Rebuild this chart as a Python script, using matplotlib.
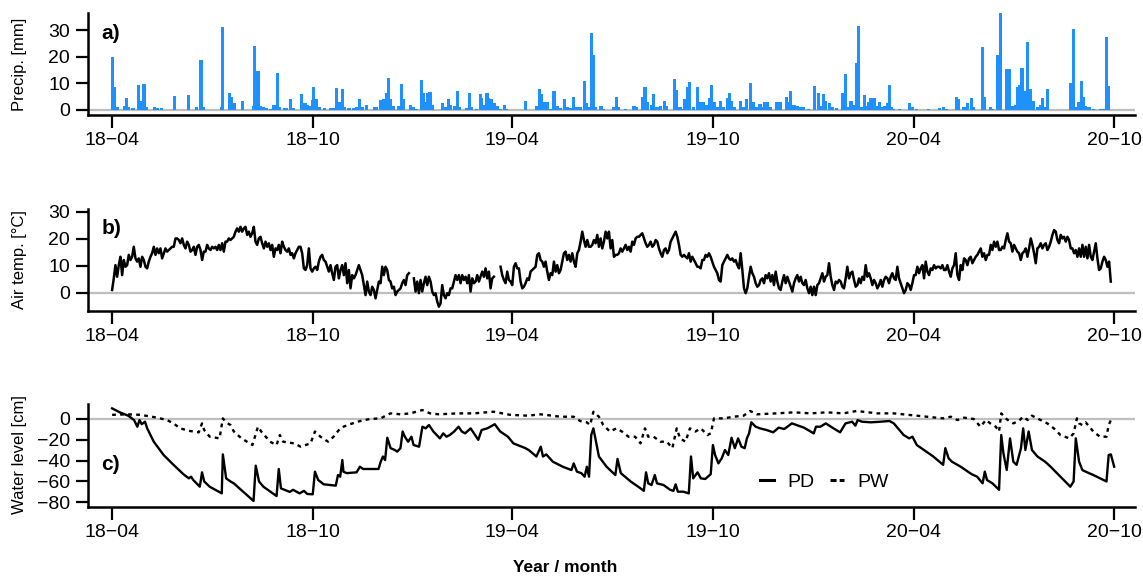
import numpy as np
import matplotlib
matplotlib.use('Agg')
import matplotlib.pyplot as plt
from matplotlib.lines import Line2D

plt.rcParams['font.family'] = ['Liberation Sans', 'DejaVu Sans']

#%% Data (days counted from 2018-04-01)

start = np.datetime64('2018-04-01')
tick_dates = np.array(['2018-04-01', '2018-10-01', '2019-04-01',
                       '2019-10-01', '2020-04-01', '2020-10-01'], dtype='datetime64[D]')
tick_labels = ['18\u221204', '18\u221210', '19\u221204', '19\u221210', '20\u221204', '20\u221210']

# daily precipitation [mm], only rainy days
precip_day = [0, 2, 5, 11, 13, 15, 19, 24, 26, 29, 31, 39, 41, 45, 57, 70, 77, 81, 83, 100,
              101, 107, 109, 112, 119, 129, 130, 133, 135, 138, 141, 145, 147, 149, 151, 153,
              157, 159, 163, 165, 173, 176, 178, 181, 183, 184, 186, 189, 194, 199, 202, 205,
              207, 210, 212, 216, 220, 223, 226, 228, 232, 239, 241, 245, 248, 250, 252, 254,
              257, 261, 264, 266, 272, 275, 278, 282, 284, 286, 288, 290, 292, 301, 304, 307,
              309, 312, 315, 317, 323, 326, 328, 332, 336, 337, 340, 342, 343, 346, 349, 351,
              354, 358, 360, 377, 387, 390, 392, 394, 397, 400, 403, 406, 409, 413, 415, 418,
              421, 424, 427, 431, 433, 435, 437, 439, 441, 446, 448, 457, 460, 462, 468, 476,
              478, 484, 486, 488, 492, 494, 497, 500, 504, 506, 513, 515, 518, 520, 522, 525,
              527, 530, 534, 536, 539, 542, 545, 547, 549, 552, 555, 558, 561, 563, 565, 568,
              573, 576, 579, 582, 585, 588, 591, 593, 595, 598, 600, 606, 608, 610, 615, 617,
              619, 622, 625, 628, 631, 635, 641, 644, 646, 649, 651, 654, 657, 661, 666, 667,
              669, 671, 674, 677, 679, 681, 683, 686, 689, 690, 692, 695, 698, 700, 702, 705,
              707, 709, 711, 713, 718, 727, 730, 734, 745, 755, 758, 761, 770, 772, 777, 780,
              784, 786, 794, 796, 801, 803, 808, 810, 816, 818, 821, 824, 826, 828, 830, 832,
              833, 835, 838, 840, 844, 847, 849, 851, 853, 874, 876, 877, 880, 882, 884, 886,
              888, 891, 895, 902, 904, 907, 909]
precip_mm = [20, 8.5, 1, 1.5, 4.3, 1, 0.6, 9.2, 3.5, 9.8, 1, 1.2, 0.7, 0.6, 5.3, 5.7, 1, 18.7, 1, 1,
             31.2, 6.4, 5, 2.6, 3.3, 1.5, 24, 14.5, 1.5, 1, 0.8, 0.5, 2, 2, 14, 1,
             0.6, 0.6, 4, 0.8, 6, 2.7, 2, 1.5, 3.7, 8.8, 4.2, 1, 0.7, 0.7, 0.7, 8.4,
             3, 7.8, 1, 0.6, 0.6, 1, 4, 1, 2, 1, 1, 3.8, 4, 6.5, 12, 4,
             1.5, 1.5, 9.6, 4, 2, 1, 0.5, 11.2, 6.5, 3, 6.3, 6.7, 2, 2.7, 1, 4,
             2, 1.5, 7, 1, 0.7, 6.5, 1, 0.5, 6, 4.5, 2, 6.5, 4.5, 4, 2.7, 1.5,
             0.5, 1.8, 0.5, 3.5, 1.5, 7.8, 6, 3, 3, 0.5, 7, 1.5, 0.7, 4, 1, 0.7,
             5, 1, 1, 11, 2.5, 1, 29, 20.5, 1, 1.5, 0.5, 1, 5, 1, 0.5, 1.5,
             1, 5, 8.5, 3, 2, 6, 1, 1.5, 3.5, 1.5, 11.5, 7.5, 1, 0.5, 4, 8.5,
             10.5, 1, 8.5, 3, 3, 2, 4.5, 9.3, 3, 1, 3.5, 1, 4.5, 6.3, 3.5, 1,
             3.5, 1, 4, 10.3, 3, 1, 2.3, 1, 3, 3, 1, 3, 3, 3, 5, 3,
             7, 2, 1.5, 1, 1, 0.5, 9, 6.5, 1.5, 6, 3.5, 2.5, 1, 0.7, 6.5, 6.5,
             13.5, 1, 3.5, 2, 17.5, 31.5, 1, 5.5, 1.5, 3, 4.5, 4.5, 1.5, 3, 1, 1.5,
             2.5, 9.5, 1, 0.5, 0.5, 2.5, 1, 0.5, 0.5, 0.7, 1, 0.5, 4.7, 4, 1, 2.7,
             4.3, 1, 23.5, 5, 1.2, 0.5, 20.5, 36.7, 15.5, 15.5, 1.5, 2, 8.5, 9.5, 15.7, 7,
             3, 25.5, 8, 3.5, 1, 2, 4.5, 1, 8, 10, 10, 30.5, 1, 3, 11, 5,
             1.5, 1.2, 0.5, 0.5, 0.5, 27.5, 9]

# air temperature [degC], one reading every 1.52 days, nan = no data
temp_step = 1.5207
temp_c = [1.0, 5.3, 10.2, 5.9, 10.2, 13.3, 6.5, 12.1, 9.6, 10.2,
          14.0, 12.1, 13.3, 17.0, 12.7, 11.5, 12.7, 9.6, 13.3, 12.1,
          9.6, 9.0, 11.5, 13.3, 14.6, 17.0, 14.0, 16.4, 14.6, 16.4,
          12.7, 14.6, 16.4, 15.2, 15.8, 16.4, 17.0, 17.0, 20.1, 20.1,
          19.5, 18.3, 20.1, 17.7, 16.4, 18.9, 17.7, 15.2, 15.8, 17.0,
          14.0, 17.0, 17.7, 15.8, 12.1, 15.2, 15.2, 17.7, 16.4, 15.8,
          17.0, 16.4, 17.0, 15.8, 17.7, 15.8, 18.3, 15.2, 18.9, 18.9,
          20.1, 19.5, 20.1, 20.7, 22.6, 23.8, 22.6, 24.4, 22.6, 23.8,
          24.4, 21.4, 22.6, 20.7, 22.0, 24.4, 18.9, 17.7, 20.1, 20.7,
          18.3, 16.4, 18.9, 17.0, 18.3, 15.8, 17.7, 13.3, 16.4, 15.8,
          17.7, 14.6, 18.9, 17.0, 15.8, 15.2, 16.4, 14.0, 14.6, 12.7,
          14.6, 15.8, 17.0, 17.0, 14.6, 9.0, 8.4, 10.2, 16.4, 9.0,
          7.8, 9.0, 9.6, 8.4, 11.5, 13.3, 14.0, 12.1, 11.5, 9.6,
          7.8, 10.2, 7.2, 4.7, 9.6, 10.2, 5.3, 8.4, 10.2, 6.5,
          10.9, 3.5, 8.4, 1.6, 6.5, 5.3, 6.5, 8.4, 10.2, 8.4,
          6.5, 2.8, -0.9, 4.1, 0.4, -0.9, 2.2, 1.0, -2.1, 1.0,
          4.1, 3.5, 9.6, 6.5, 9.6, 8.4, 4.7, 4.1, 1.6, 2.2,
          -0.9, 0.4, 1.0,
          1.6, 3.5, 4.7, 2.8, 6.5, 7.2, np.nan, np.nan, 5.3, 0.4,
          4.1, -0.2, 4.7, 0.4, 3.5, 5.9, 2.8, 5.9, 4.1, 0.4,
          -0.9, -0.2, -3.3, -5.2, -4.0, 2.8, -0.9, -2.1, -0.2, -0.9,
          1.6, 1.6, 4.1, 6.5, 4.7, 6.5, 3.5, 6.5, 4.7, 5.9,
          3.5, 6.5, 0.4, 5.3, 3.5, 4.1, 6.5, 4.1, 5.9, 7.8,
          5.9, 9.0, 5.3, 7.8, 1.6, 5.3, 5.9, np.nan, np.nan, np.nan,
          9.6, 6.5, 4.7, 3.5, 7.8, 4.7, 4.1, 2.8, 9.6, 10.9,
          9.0, 9.0, 4.1, 1.6, 2.2, 3.5, 5.3, 4.7, 7.8, 8.4,
          9.0, 9.6, 14.0, 14.6, 12.1, 11.5, 9.6, 11.5, 7.8, 4.7,
          7.2, 6.5, 11.5, 7.8, 10.2, 7.2, 8.4, 11.5, 14.6, 15.2,
          12.1, 14.0, 11.5, 14.6, 11.5, 9.6, 14.6, 15.8, 18.9, 22.6,
          19.5, 17.0, 19.5, 17.0, 17.0, 17.7, 19.5, 18.3, 21.4, 17.0,
          20.1, 16.4, 18.9, 22.6, 20.1, 22.6, 16.4, 19.5, 13.3, 14.0,
          14.0, 14.6, 16.4, 15.2, 16.4, 17.7, 15.8, 17.0, 15.2, 18.9,
          17.7, 20.1, 20.7, 20.7, 21.4, 22.0, 20.1, 18.3, 17.0, 17.7,
          18.9, 17.0, 17.7, 19.5, 18.9, 16.4, 14.6, 13.3, 15.8, 16.4,
          14.6, 15.8, 18.9, 20.1, 21.4, 22.6, 20.7, 17.7, 14.0, 13.3,
          14.0, 13.3, 12.7, 14.6, 11.5, 13.3, 12.1, 10.9, 9.6, 9.6,
          9.0, 12.1, 12.1, 14.0, 13.3, 14.6, 13.3, 11.5, 9.6, 8.4,
          7.2, 4.7, 4.1, 10.2, 11.5, 12.7, 14.0, 12.7, 12.1, 12.7,
          11.5, 12.1, 10.2, 9.0, 14.6, 8.4, 1.6, -0.2, 1.6, 5.9,
          9.6, 7.2, 5.9, 3.5, 2.2, 2.8, 4.7, 5.3, 3.5, 6.5,
          5.3, 7.2, 4.1, 6.5, 2.8, 7.8, 4.1, 1.6,
          1.0, 4.1, 6.5, 3.5, 5.9, 4.1, 2.2, 0.4, 3.5, 5.3,
          6.5, 4.1, 5.9, 3.5, 2.8, 4.7, 1.6, -0.2, 2.2, -0.9,
          2.2, -0.9, 2.8, 3.5, 5.3, 7.2, 4.1, 5.9, 6.5, 10.9,
          5.9, 2.8, 1.0, 4.1, 3.5, 4.7, 4.1, 2.2, 1.6, 5.3,
          9.6, 5.3, 7.2, 7.8, 4.7, 2.2, 2.8, 5.3, 3.5, 5.9,
          4.7, 10.2, 5.9, 7.2, 5.3, 2.8, 4.7, 3.5, 1.6, 2.8,
          4.7, 2.2, 4.7, 5.9, 5.3, 3.5, 5.9, 7.2, 5.3, 4.7,
          9.6, 5.3, 3.5, 1.6, -0.2, 1.0, 3.5, 2.8, 1.0, 3.5,
          6.5, 6.5, 9.6, 7.2, 9.0, 10.2, 5.3, 11.5, 7.8, 6.5,
          9.0, 8.4, 10.2, 9.0, 9.6, 9.6, 9.0, 10.2, 8.4, 8.4,
          10.2, 7.8, 5.9, 9.0, 10.2, 14.6, 6.5, 4.7, 10.2, 8.4,
          12.7, 12.1, 10.2, 12.7, 13.3, 10.9, 12.1, 13.3, 14.0, 15.2,
          16.4, 13.3, 14.6, 12.1, 14.0, 14.0, 17.7, 15.8, 18.9, 17.0,
          18.9, 15.8, 15.8, 17.0, 16.4, 19.5, 22.0, 18.9, 18.3, 15.2,
          17.7, 16.4, 15.2, 14.6, 12.1, 14.6, 15.2, 16.4, 13.3, 16.4,
          20.1, 17.7, 14.6, 10.9, 16.4, 17.0, 18.3, 16.4, 17.7, 18.3,
          15.8, 17.0, 18.9, 21.4, 23.2, 22.6, 19.5, 18.3, 21.4, 20.1,
          20.7, 18.9, 20.7, 19.5, 16.4, 16.4, 14.6, 15.8, 13.3, 16.4,
          13.3, 17.7, 13.3, 17.0, 12.7, 17.7, 13.3, 12.1, 15.2, 18.3,
          12.7, 8.4, 9.0, 11.5, 13.3, 12.1, 9.6, 11.5, 4.1]

# water level [cm], PD and PW
pd_day = [0, 7, 15, 20, 23, 25, 27, 30, 32, 38, 47, 56, 65, 70, 72, 74, 80, 82, 84, 89,
          100, 101, 104, 108, 111, 129, 131, 134, 138, 150, 152, 154, 162, 165, 171, 175, 178,
          183, 185, 188, 193, 204, 206, 208, 210, 211, 214, 223, 226, 229, 243, 245, 247, 249,
          251, 254, 258, 260, 263, 265, 267, 270, 273, 275, 280, 283, 286, 289, 293, 299, 302,
          305, 308, 312, 316, 319, 322, 327, 334, 337, 342, 345, 349, 354, 361, 366, 377, 380,
          387, 391, 393, 396, 402, 411, 419, 421, 424, 428, 431, 433, 435, 437, 439, 442, 444,
          451, 459, 461, 464, 473, 482, 485, 487, 489, 492, 495, 497, 503, 509, 512, 514, 516,
          521, 526, 528, 530, 534, 537, 541, 546, 548, 550, 553, 556, 559, 562, 565, 568, 571,
          574, 577, 579, 581, 583, 587, 591, 597, 603, 608, 613, 616, 620, 631, 640, 642, 646,
          651, 657, 664, 669, 675, 678, 680, 684, 692, 701, 709, 713, 722, 727, 730, 734, 749,
          758, 760, 763, 766, 774, 784, 789, 794, 796, 798, 803, 809, 811, 813, 816, 819, 822,
          825, 829, 831, 833, 836, 839, 844, 851, 856, 865, 874, 877, 879, 882, 885, 888, 895,
          907, 909, 911, 914]
pd_cm = [10.2, 6.4, 3, -1, -7.4, -1, -5, -2.6, -9, -21.8, -34.6, -44, -53, -57, -55.4, -58.6, -65, -51.2, -60, -65,
         -71.4, -34, -57, -60, -61.8, -78.7, -44.8, -60, -65, -74, -48, -66.6, -70, -68, -71.4, -69, -72,
         -72.3, -50.6, -58.6, -62.7, -64, -53.8, -55.4, -39.4, -50.6, -52, -51.2, -45.8, -48, -48, -41, -36, -39.4,
         -18, -28, -29.8, -31.4, -28, -12, -17, -21.8, -17, -25, -26.6, -7.4, -9, -5.8, -12, -18.6, -13.8,
         -17, -15.4, -12, -7.4, -12, -13.8, -9, -20, -10.6, -9, -7.4, -5, -12, -17, -23.4, -28, -29.8,
         -36, -26.6, -36, -34, -41, -45.8, -49, -42.6, -50.6, -52, -55.4, -45.8, -55.4, -15.4, -9, -25, -36,
         -45.8, -53.8, -38.4, -52, -60, -66.6, -69, -51.2, -61.8, -63.4, -53.8, -61.8, -63.4, -68, -69, -62.7, -69.8,
         -69.8, -71.4, -36, -57, -51.2, -57, -57.6, -53, -25, -34.6, -42.6, -37.8, -29.8, -34.6, -18, -28, -18.6,
         -26.6, -28, -18.6, -13.8, -3.2, -7.4, -9, -10.6, -12.8, -8.3, -9.6, -7.4, -4.2, -8.3, -13.8, -7.4, -7.4,
         -4.2, -8.3, -12.8, -4.2, -2.6, -6.4, -1, -2.6, -3.2, -2.6, -1.9, -4.2, -15.4, -18.6, -17, -25, -36,
         -44, -28, -37.8, -41, -45.8, -53, -55.4, -61.8, -50.6, -58.6, -61.8, -68, -15.4, -33, -49, -18.6, -41,
         -44, -28, -9, -29.8, -12, -29.8, -36, -41, -45.8, -55.4, -65, -60, -18.6, -41, -49, -50.6, -53.8,
         -60, -34.6, -34, -45.8]

pw_day = [0, 14, 26, 41, 50, 56, 62, 71, 79, 82, 84, 89, 98, 101, 104, 108, 111, 118, 128, 133,
          136, 144, 150, 153, 156, 166, 172, 181, 185, 190, 197, 202, 208, 211, 217, 226, 235, 245,
          251, 254, 263, 272, 283, 290, 298, 315, 330, 348, 363, 379, 391, 409, 421, 427, 433, 436,
          439, 444, 448, 454, 460, 465, 471, 477, 482, 486, 489, 494, 500, 506, 511, 515, 518, 523,
          527, 532, 537, 543, 546, 549, 558, 567, 576, 582, 588, 606, 622, 637, 652, 667, 679, 698,
          713, 728, 743, 758, 765, 771, 777, 786, 792, 797, 801, 806, 809, 811, 815, 819, 822, 827,
          831, 835, 839, 847, 853, 859, 865, 873, 877, 880, 882, 885, 888, 895, 901, 907, 909, 912]
pw_cm = [4, 4.5, 4, 1.3, -1, -4.2, -9, -11.5, -12.8, -4.2, -10.6, -17, -18.6, 0.6, -3.2, -5.8, -12, -18.6, -25, -7.4,
         -12, -21.8, -25, -15.4, -21.8, -23.4, -26.6, -23.4, -12, -17, -21.8, -17, -9, -7.4, -5, -2, 0, 0.6,
         4, 5.4, 4.5, 5.4, 8.6, 5.4, 4.5, 5.4, 5.4, 7, 4, 3.2, 4.5, 2.2, 2.2, -2, -3.2, -5.8,
         7, 2.2, -5.8, -12, -9, -12, -17, -17, -23.4, -9, -17, -17, -21.8, -21.8, -28, -9, -18.6, -21.8,
         -9, -12, -9, -15.4, -13.8, 0.6, 0.6, 2.2, 3.2, 7.7, 4.5, 5.4, 6.4, 5.4, 6.4, 5.4, 7.7, 5.4,
         5.4, 3.8, 2.2, 0.6, 2.2, -1, 1.3, 0, -7.4, -1, -4.2, -7.4, -12, 5.4, 0.6, -2.6, -4.2, -1.9,
         2.2, -1, 3.2, -1, -4.2, -9, -15.4, -18.6, -13.8, 0.6, -4.2, -5.8, -3.2, -12, -17, -17, -5.8, 1.3]

#%% Figure

temp_day = np.arange(len(temp_c)) * temp_step
tick_pos = (tick_dates - start).astype(int)

fig = plt.figure(figsize=(11.43, 5.76), dpi=100)
left, width = 88 / 1143, 1047 / 1143
ax_a = fig.add_axes([left, 1 - 115 / 576, width, 102 / 576])
ax_b = fig.add_axes([left, 1 - 311 / 576, width, 102 / 576])
ax_c = fig.add_axes([left, 1 - 507 / 576, width, 103 / 576])

for ax in (ax_a, ax_b, ax_c):
    ax.axhline(0, color='#bebebe', lw=1.6, zorder=0)
    ax.set_xlim(-22, 933)
    ax.set_xticks(tick_pos)
    ax.set_xticklabels(tick_labels)
    for s in ('top', 'right'):
        ax.spines[s].set_visible(False)
    for s in ('left', 'bottom'):
        ax.spines[s].set_linewidth(1.8)
    ax.tick_params(length=9, width=1.6, labelsize=14, pad=3)
    ax.tick_params(axis='y', pad=4)

### a) precipitation
ax_a.bar(precip_day, precip_mm, width=2.9, color='dodgerblue', linewidth=0, zorder=2)
ax_a.set_ylim(-1.9, 36.4)
ax_a.set_yticks([0, 10, 20, 30])

### b) air temperature
ax_b.plot(temp_day, temp_c, color='black', lw=1.8)
ax_b.set_ylim(-6.8, 31)
ax_b.set_yticks([0, 10, 20, 30])

### c) water level
dotted = (0, (1.6, 1.8))
ax_c.plot(pw_day, pw_cm, color='black', lw=1.7, linestyle=dotted)
ax_c.plot(pd_day, pd_cm, color='black', lw=1.7)
ax_c.set_ylim(-84.5, 14.4)
ax_c.set_yticks([0, -20, -40, -60, -80])
handles = [Line2D([], [], color='black', lw=2.2),
           Line2D([], [], color='black', lw=2.2, linestyle=(0, (2.0, 1.0)))]
ax_c.legend(handles, ['PD', 'PW'], ncol=2, frameon=False, fontsize=14,
            loc='center left', bbox_to_anchor=(0.633, 0.245), borderpad=0,
            handlelength=0.7, handletextpad=0.7, columnspacing=0.8)

### panel letters and labels
ax_a.text(0.013, 0.80, 'a)', transform=ax_a.transAxes, fontsize=15, fontweight='bold', va='center')
ax_b.text(0.013, 0.81, 'b)', transform=ax_b.transAxes, fontsize=15, fontweight='bold', va='center')
ax_c.text(0.013, 0.41, 'c)', transform=ax_c.transAxes, fontsize=15, fontweight='bold', va='center')

fig.text(20 / 1143, 1 - 64 / 576, 'Precip. [mm]', rotation=90, ha='center', va='center', fontsize=12)
fig.text(20 / 1143, 1 - 260 / 576, 'Air temp. [°C]', rotation=90, ha='center', va='center', fontsize=12)
fig.text(20 / 1143, 1 - 455 / 576, 'Water level [cm]', rotation=90, ha='center', va='center', fontsize=12)
fig.text(565 / 1143, 1 - 568 / 576, 'Year / month', ha='center', va='center', fontsize=12.5, fontweight='bold')

plt.savefig('out.png', dpi=100)
